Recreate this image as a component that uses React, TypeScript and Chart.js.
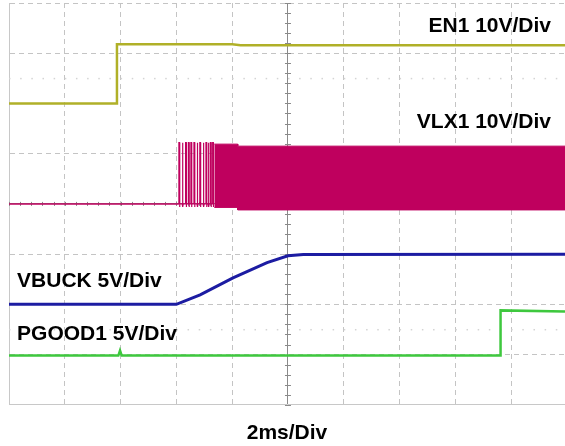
import React, { useEffect, useRef } from "react";
import { Chart, registerables } from "chart.js";

Chart.register(...registerables);

// Time axis in ms (2 ms/div), vertical axis in divisions (0..8)
const T_MAX = 19.93;
const X_GRID = [0, 2, 4, 6, 8, 10, 12, 14, 16, 18];
const Y_GRID = [0, 1, 2, 3, 4, 5, 7, 8];
const Y_DOTS = [1.5, 6.5];
const CENTER_T = 10;
const CENTER_DIV = 4;

// Channel setup: ground level (div) and volts/div
const EN1_CH = { ground: 6, vdiv: 10 };
const VLX_CH = { ground: 4, vdiv: 10 };
const VBUCK_CH = { ground: 2, vdiv: 5 };
const PGOOD_CH = { ground: 1, vdiv: 5 };

// EN1 (V)
const EN1_T = [0, 3.87, 3.87, 8.0, 8.3, 19.93];
const EN1_V = [0, 0, 11.8, 11.8, 11.6, 11.6];

// VLX1 (V)
const VLX_BASE_T = [0, 6.09];
const VLX_BASE_V = [0, 0];
const VLX_PULSES = [6.09, 6.21, 6.33, 6.43, 6.52, 6.63, 6.74, 6.84, 6.96, 7.06, 7.14, 7.22, 7.3];
const VLX_PULSE_HIGH = 12.2;
const VLX_PULSE_LOW = -0.6;
const VLX_PULSE_W = 0.025;
const VLX_BAND_T = [7.36, 8.2, 8.2, 19.93];
const VLX_BAND_HIGH = [11.9, 11.9, 11.5, 11.5];
const VLX_BAND_LOW = [-0.7, -0.7, -1.2, -1.2];

// VBUCK (V)
const VBUCK_T = [0, 6.0, 6.85, 8.03, 9.25, 10.0, 10.55, 19.93];
const VBUCK_V = [0, 0, 0.95, 2.64, 4.16, 4.83, 4.97, 5.0];

// PGOOD1 (V)
const PGOOD_T = [0, 3.92, 3.98, 4.04, 17.62, 17.62, 19.93];
const PGOOD_V = [-0.1, -0.1, 0.4, -0.1, -0.1, 4.4, 4.3];

// Labels (x in ms, y in div)
const LABEL_TEXT = ["EN1 10V/Div", "VLX1 10V/Div", "VBUCK 5V/Div", "PGOOD1 5V/Div"];
const LABEL_T = [19.43, 19.43, 0.29, 0.29];
const LABEL_DIV = [7.42, 5.51, 2.35, 1.29];
const LABEL_ALIGN: CanvasTextAlign[] = ["right", "right", "left", "left"];
const X_TITLE = "2ms/Div";

const FONT = 'bold 21px "Liberation Sans", Arial, Helvetica, sans-serif';

const COLORS = {
  en1: "#b0b028",
  vlx: "#bf005e",
  vbuck: "#1c1ca2",
  pgood: "#3ec83e",
  grid: "#c4c4c4",
  center: "#8a8a8a",
  frame: "#c8c8c8",
};

function toPts(t: number[], v: number[], ch: { ground: number; vdiv: number }) {
  return t.map((x, i) => ({ x, y: ch.ground + v[i] / ch.vdiv }));
}

function pulsePts() {
  const pts: { x: number; y: number }[] = [];
  const g = VLX_CH.ground;
  const d = VLX_CH.vdiv;
  VLX_PULSES.forEach((t) => {
    pts.push({ x: t, y: g });
    pts.push({ x: t, y: g + VLX_PULSE_HIGH / d });
    pts.push({ x: t + VLX_PULSE_W, y: g + VLX_PULSE_HIGH / d });
    pts.push({ x: t + VLX_PULSE_W, y: g + VLX_PULSE_LOW / d });
    pts.push({ x: t + VLX_PULSE_W + 0.01, y: g });
  });
  pts.push({ x: VLX_BAND_T[0], y: g });
  return pts;
}

const scopePlugin = {
  id: "scopeDecor",
  beforeDatasetsDraw(chart: any) {
    const { ctx, scales } = chart;
    const xs = scales.x;
    const ys = scales.y;
    ctx.save();
    // dotted rows
    ctx.fillStyle = "#d4d4d4";
    Y_DOTS.forEach((d) => {
      const py = ys.getPixelForValue(d);
      for (let t = 0; t <= T_MAX; t += 0.4) {
        const px = xs.getPixelForValue(t);
        ctx.fillRect(px, py - 0.5, 1.5, 1.5);
      }
    });
    // minor ticks on centre lines
    ctx.strokeStyle = COLORS.center;
    ctx.lineWidth = 1;
    const cx = xs.getPixelForValue(CENTER_T);
    const cy = ys.getPixelForValue(CENTER_DIV);
    ctx.beginPath();
    for (let d = 0; d <= 8.001; d += 0.2) {
      const py = Math.round(ys.getPixelForValue(d)) + 0.5;
      ctx.moveTo(cx - 3, py);
      ctx.lineTo(cx + 3, py);
    }
    for (let t = 0; t <= T_MAX; t += 0.4) {
      const px = Math.round(xs.getPixelForValue(t)) + 0.5;
      ctx.moveTo(px, cy - 2);
      ctx.lineTo(px, cy + 2);
    }
    ctx.stroke();
    ctx.restore();
  },
  afterDatasetsDraw(chart: any) {
    const { ctx, scales } = chart;
    ctx.save();
    ctx.font = FONT;
    ctx.fillStyle = "#000";
    ctx.textBaseline = "alphabetic";
    LABEL_TEXT.forEach((txt, i) => {
      ctx.textAlign = LABEL_ALIGN[i];
      ctx.fillText(txt, scales.x.getPixelForValue(LABEL_T[i]), scales.y.getPixelForValue(LABEL_DIV[i]));
    });
    ctx.restore();
  },
};

export default function App() {
  const ref = useRef<HTMLCanvasElement | null>(null);
  useEffect(() => {
    document.body.style.margin = "0";
    if (!ref.current) return;
    const lineBase = { pointRadius: 0, tension: 0, fill: false, borderJoinStyle: "miter" as const };
    const chart = new Chart(ref.current, {
      type: "line",
      data: {
        datasets: [
          { ...lineBase, label: "PGOOD1", data: toPts(PGOOD_T, PGOOD_V, PGOOD_CH), borderColor: COLORS.pgood, borderWidth: 2.5, order: 1 },
          { ...lineBase, label: "VBUCK", data: toPts(VBUCK_T, VBUCK_V, VBUCK_CH), borderColor: COLORS.vbuck, borderWidth: 3, order: 2 },
          { ...lineBase, label: "VLX1 base", data: toPts(VLX_BASE_T, VLX_BASE_V, VLX_CH), borderColor: COLORS.vlx, borderWidth: 1.5, order: 3 },
          { ...lineBase, label: "VLX1 pulses", data: pulsePts(), borderColor: COLORS.vlx, borderWidth: 1.2, order: 3 },
          {
            ...lineBase,
            label: "VLX1 band high",
            data: toPts(VLX_BAND_T, VLX_BAND_HIGH, VLX_CH),
            borderColor: COLORS.vlx,
            backgroundColor: COLORS.vlx,
            borderWidth: 1,
            fill: "+1",
            order: 4,
          },
          { ...lineBase, label: "VLX1 band low", data: toPts(VLX_BAND_T, VLX_BAND_LOW, VLX_CH), borderColor: COLORS.vlx, borderWidth: 1, order: 5 },
          { ...lineBase, label: "EN1", data: toPts(EN1_T, EN1_V, EN1_CH), borderColor: COLORS.en1, borderWidth: 2.5, order: 6 },
        ],
      },
      options: {
        animation: false,
        responsive: false,
        maintainAspectRatio: false,
        events: [],
        layout: { padding: { left: 9, top: 3, right: 0, bottom: 0 } },
        plugins: { legend: { display: false }, tooltip: { enabled: false }, title: { display: false } },
        scales: {
          x: {
            type: "linear",
            min: 0,
            max: T_MAX,
            afterBuildTicks: (s: any) => {
              s.ticks = X_GRID.map((v) => ({ value: v }));
            },
            ticks: { display: false },
            grid: {
              drawTicks: false,
              color: (c: any) => (c.tick && c.tick.value === CENTER_T ? COLORS.center : COLORS.grid),
              lineWidth: 1,
            },
            border: {
              display: true,
              color: COLORS.frame,
              dash: (c: any) => (c.tick && c.tick.value === CENTER_T ? [] : [5, 4]),
            },
            title: {
              display: true,
              text: X_TITLE,
              color: "#000",
              font: { family: '"Liberation Sans", Arial, Helvetica, sans-serif', size: 21, weight: "bold", lineHeight: 1.2 },
              padding: { top: 16, bottom: 0 },
            },
          },
          y: {
            type: "linear",
            min: 0,
            max: 8,
            afterBuildTicks: (s: any) => {
              s.ticks = Y_GRID.map((v) => ({ value: v }));
            },
            ticks: { display: false },
            grid: {
              drawTicks: false,
              color: (c: any) => (c.tick && c.tick.value === CENTER_DIV ? COLORS.center : COLORS.grid),
              lineWidth: 1,
            },
            border: {
              display: true,
              color: COLORS.frame,
              dash: (c: any) => (c.tick && c.tick.value === CENTER_DIV ? [] : [5, 4]),
            },
          },
        },
      },
      plugins: [scopePlugin],
    } as any);
    return () => chart.destroy();
  }, []);
  return (
    <div style={{ position: "absolute", left: 0, top: 0, width: 565, height: 446, background: "#fff" }}>
      <canvas ref={ref} width={565} height={446} style={{ display: "block" }} />
    </div>
  );
}
